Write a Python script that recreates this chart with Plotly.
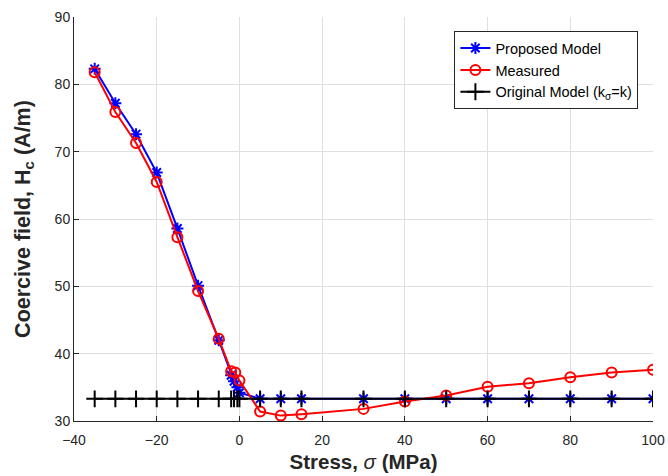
import plotly.graph_objects as go

# Data
prop_x = [-35, -30, -25, -20, -15, -10, -5, -2, -1.3, -0.5, 0, 5, 10, 15, 30, 40, 50, 60, 70, 80, 90, 100]
prop_y = [82.3, 77.2, 72.6, 66.9, 58.6, 50.1, 42.0, 36.8, 35.9, 35.0, 34.2, 33.3, 33.3, 33.3, 33.3, 33.3, 33.3, 33.3, 33.3, 33.3, 33.3, 33.3]

meas_x = [-35, -30, -25, -20, -15, -10, -5, -2, -1, 0, 5, 10, 15, 30, 40, 50, 60, 70, 80, 90, 100]
meas_y = [81.8, 75.9, 71.3, 65.5, 57.3, 49.3, 42.2, 37.4, 37.2, 36.0, 31.4, 30.8, 31.0, 31.8, 32.9, 33.8, 35.1, 35.6, 36.5, 37.2, 37.6]

orig_x = prop_x
orig_y = [33.3] * len(orig_x)

x_ticks = [-40, -20, 0, 20, 40, 60, 80, 100]
y_ticks = [30, 40, 50, 60, 70, 80, 90]

fig = go.Figure()
fig.add_trace(go.Scatter(
    x=prop_x, y=prop_y, mode="lines+markers", name="Proposed Model",
    line=dict(color="#0000ff", width=2),
    marker=dict(symbol="asterisk-open", size=10, line=dict(color="#0000ff", width=2)),
))
fig.add_trace(go.Scatter(
    x=meas_x, y=meas_y, mode="lines+markers", name="Measured",
    line=dict(color="#ff0000", width=2),
    marker=dict(symbol="circle-open", size=10, color="#ff0000", line=dict(color="#ff0000", width=2)),
))
fig.add_trace(go.Scatter(
    x=orig_x, y=orig_y, mode="lines+markers", name="Original Model (k<sub>σ</sub>=k)",
    line=dict(color="#000000", width=2),
    marker=dict(symbol="cross-thin-open", size=12, line=dict(color="#000000", width=2)),
))

axis_common = dict(
    showgrid=True, gridcolor="#dfdfdf", gridwidth=1,
    showline=True, linecolor="#262626", linewidth=1,
    ticks="inside", ticklen=5, tickcolor="#262626",
    zeroline=False, automargin=False,
    tickfont=dict(family="Liberation Sans, Arial", size=14, color="#262626"),
)

fig.update_layout(
    width=668, height=476,
    margin=dict(l=74, r=15, t=17, b=55),
    paper_bgcolor="white", plot_bgcolor="white",
    font=dict(family="Liberation Sans, Arial", color="#262626"),
    xaxis=dict(
        range=[-40, 100], tickvals=x_ticks, ticklabelstandoff=6,
        title=dict(text="<b>Stress, </b><i>σ</i><b> (MPa)</b>", font=dict(size=20.5, color="#262626"), standoff=7),
        **axis_common,
    ),
    yaxis=dict(
        range=[30, 90], tickvals=y_ticks,
        title=dict(text="<b>Coercive field, H<sub>c</sub> (A/m)</b>", font=dict(size=21.5, color="#262626"), standoff=18),
        **axis_common,
    ),
    legend=dict(
        x=0.657, y=0.965, xanchor="left", yanchor="top",
        bgcolor="white", bordercolor="#262626", borderwidth=1,
        font=dict(size=14.5, color="#000000"),
        tracegroupgap=0,
    ),
    showlegend=True,
)

fig.write_html("out.html")
